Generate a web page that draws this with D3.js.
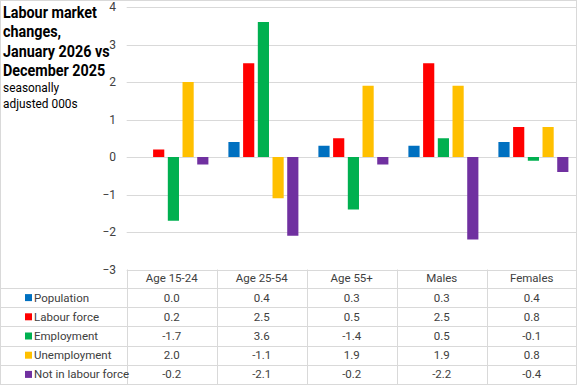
<!DOCTYPE html>
<html><head><meta charset="utf-8">
<script src="https://cdn.jsdelivr.net/npm/d3@7"></script>
<style>body{margin:0;background:#fff}svg{display:block}</style>
</head><body>
<script>
const categories = ["Age 15-24","Age 25-54","Age 55+","Males","Females"];
const seriesNames = ["Population","Labour force","Employment","Unemployment","Not in labour force"];
const population = [0.0,0.4,0.3,0.3,0.4];
const labourForce = [0.2,2.5,0.5,2.5,0.8];
const employment = [-1.7,3.6,-1.4,0.5,-0.1];
const unemployment = [2.0,-1.1,1.9,1.9,0.8];
const notInLabourForce = [-0.2,-2.1,-0.2,-2.2,-0.4];
const yTicks = [4,3,2,1,0,-1,-2,-3];
const colors = ["#0070C0","#FF0000","#00B050","#FFC000","#7030A0"];
const series = [population,labourForce,employment,unemployment,notInLabourForce];

const W=577,H=385;
const svg=d3.select("body").append("svg").attr("width",W).attr("height",H)
  .style("font-family","Roboto, 'Open Sans', sans-serif");
const grid="#d9d9d9";
svg.append("rect").attr("x",0.5).attr("y",0.5).attr("width",W-1).attr("height",H-1)
  .attr("fill","none").attr("stroke",grid);

const x0=d3.scaleBand().domain(categories).range([126.7,576.7]);
const x1=d3.scaleBand().domain(seriesNames).range([11.7,11.7+70]).paddingInner(0.24).paddingOuter(0);
const y=d3.scaleLinear().domain([-3,4]).range([269.5,7]);

svg.append("g").selectAll("line").data(yTicks).join("line")
  .attr("x1",126.7).attr("x2",576.7).attr("y1",d=>Math.round(y(d))+0.5).attr("y2",d=>Math.round(y(d))+0.5)
  .attr("stroke",grid);
const yAxis=d3.axisLeft(y).tickValues(yTicks).tickSize(0).tickPadding(0).tickFormat(d3.format("d"));
const ga=svg.append("g").attr("transform","translate(116,0)").call(yAxis);
ga.select(".domain").remove();
ga.selectAll("text").attr("font-size",12).attr("fill","#404040").style("font-family","Roboto, sans-serif");

categories.forEach((c,ci)=>{
  series.forEach((s,si)=>{
    const v=s[ci];
    if(v===0) return;
    svg.append("rect")
      .attr("x",x0(c)+x1(seriesNames[si]))
      .attr("width",x1.bandwidth())
      .attr("y",y(Math.max(0,v)))
      .attr("height",Math.abs(y(v)-y(0)))
      .attr("fill",colors[si]);
  });
});

const title=["Labour market","changes,","January 2026 vs","December 2025"];
svg.append("g").attr("transform","translate(3,0) scale(0.87,1)")
  .selectAll("text").data(title).join("text")
  .attr("x",0).attr("y",(d,i)=>18+i*19.4).text(d=>d)
  .attr("font-size",16.5).attr("font-weight","bold").attr("fill","#000");
svg.append("g").attr("transform","translate(3,0) scale(0.95,1)")
  .selectAll("text").data(["seasonally","adjusted 000s"]).join("text")
  .attr("x",0).attr("y",(d,i)=>92+i*16).text(d=>d)
  .attr("font-size",12.5).attr("fill","#000");

const rowTop=288, rowH=19.2;
const tb=svg.append("g");
const vx=categories.map(c=>x0(c)).concat([576.7]);
tb.selectAll("line.v").data(vx).join("line").attr("class","v")
  .attr("x1",d=>Math.round(d)+0.5).attr("x2",d=>Math.round(d)+0.5)
  .attr("y1",269.5).attr("y2",H).attr("stroke",grid);
tb.selectAll("line.h").data(d3.range(seriesNames.length+1)).join("line").attr("class","h")
  .attr("x1",0).attr("x2",W).attr("y1",d=>Math.round(rowTop+d*rowH)+0.5).attr("y2",d=>Math.round(rowTop+d*rowH)+0.5)
  .attr("stroke",grid);
tb.append("line").attr("x1",0.5).attr("x2",0.5).attr("y1",rowTop).attr("y2",H).attr("stroke",grid);
tb.selectAll("text.hd").data(categories).join("text").attr("class","hd")
  .attr("x",c=>x0(c)+x0.bandwidth()/2).attr("y",282).attr("text-anchor","middle")
  .attr("font-size",11.5).attr("fill","#404040").text(c=>c);
seriesNames.forEach((n,si)=>{
  const cy=rowTop+si*rowH+rowH/2;
  tb.append("rect").attr("x",25).attr("y",cy-3.5).attr("width",7).attr("height",7).attr("fill",colors[si]);
  tb.append("text").attr("x",34).attr("y",cy+4).attr("font-size",11.5).attr("fill","#404040").text(n);
  tb.selectAll(null).data(series[si]).join("text")
    .attr("x",(d,i)=>x0(categories[i])+x0.bandwidth()/2).attr("y",cy+4).attr("text-anchor","middle")
    .attr("font-size",11.5).attr("fill","#404040").text(d=>d3.format(".1f")(d).replace("−","-"));
});
</script>
</body></html>
